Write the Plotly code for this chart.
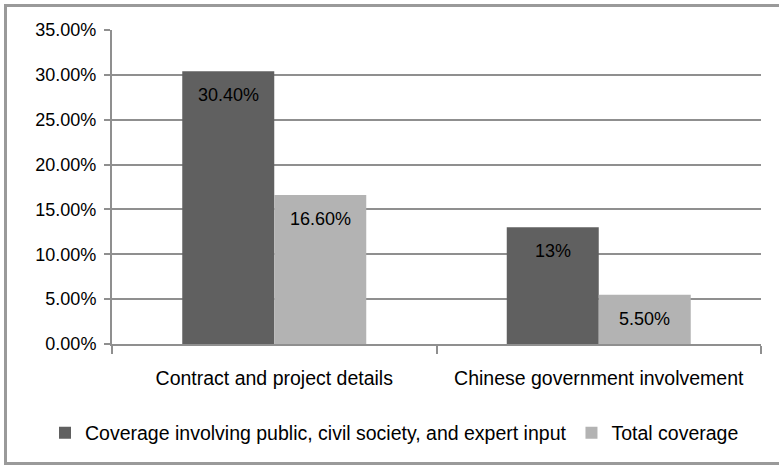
import plotly.graph_objects as go

categories = ["Contract and project details", "Chinese government involvement"]
series_names = ["Coverage involving public, civil society, and expert input", "Total coverage"]
expert_values = [30.4, 13.0]
total_values = [16.6, 5.5]
expert_labels = ["30.40%", "13%"]
total_labels = ["16.60%", "5.50%"]
y_ticks = [0, 5, 10, 15, 20, 25, 30, 35]
y_tick_labels = ["0.00%", "5.00%", "10.00%", "15.00%", "20.00%", "25.00%", "30.00%", "35.00%"]

FONT = "Liberation Sans"
W, H = 779, 465
L, R, T, B = 112, 18, 30, 121
pw, ph = W - L - R, H - T - B
DARK, LIGHT, GRID = "#606060", "#b3b3b3", "#8f8f8f"

fig = go.Figure()
fig.add_trace(go.Bar(x=categories, y=expert_values, name=series_names[0],
                     marker=dict(color=DARK, line=dict(width=0))))
fig.add_trace(go.Bar(x=categories, y=total_values, name=series_names[1],
                     marker=dict(color=LIGHT, line=dict(width=0))))

# data labels placed just inside the top of each bar
bar_offset = 46
for vals, labs, sh in [(expert_values, expert_labels, -bar_offset), (total_values, total_labels, bar_offset)]:
    for c, v, t in zip(categories, vals, labs):
        fig.add_annotation(x=c, y=v, xref="x", yref="y", text=t, showarrow=False,
                           xshift=sh, yshift=-24, yanchor="middle", xanchor="center",
                           font=dict(size=18, color="#000000", family=FONT))

def px_x(p):
    return (p - L) / pw

def px_y(p):
    return (H - B - p) / ph

fig.add_shape(type="rect", xref="paper", yref="paper",
              x0=px_x(5.5), x1=px_x(800), y0=px_y(463.5), y1=px_y(5.5),
              line=dict(color="#9a9a9a", width=3), fillcolor="rgba(0,0,0,0)", layer="below")

fig.update_layout(
    width=W, height=H,
    margin=dict(l=L, r=R, t=T, b=B, autoexpand=False),
    paper_bgcolor="white", plot_bgcolor="white",
    barmode="group", bargap=0.433, bargroupgap=0,
    font=dict(family=FONT, size=18, color="#000000"),
    showlegend=True,
    legend=dict(orientation="h", xref="paper", yref="paper",
                x=px_x(45), xanchor="left", y=px_y(433), yanchor="middle",
                font=dict(size=19.5, family=FONT), itemwidth=30, traceorder="normal",
                bgcolor="rgba(0,0,0,0)"),
)
fig.update_yaxes(
    range=[0, 35], tickvals=y_ticks, ticktext=y_tick_labels,
    showgrid=True, gridcolor=GRID, gridwidth=2,
    showline=True, linecolor=GRID, linewidth=2,
    ticks="outside", ticklen=6, tickcolor=GRID, tickwidth=2,
    zeroline=False, ticklabelstandoff=4, tickfont=dict(size=18),
)
fig.update_xaxes(
    showline=True, linecolor=GRID, linewidth=2,
    ticks="outside", tickson="boundaries", ticklen=8, tickcolor=GRID, tickwidth=2,
    showgrid=False, ticklabelstandoff=16, tickfont=dict(size=19.5),
)

fig.write_html("out.html", config={"displayModeBar": False},
               post_script="document.body.style.margin='0px';")
